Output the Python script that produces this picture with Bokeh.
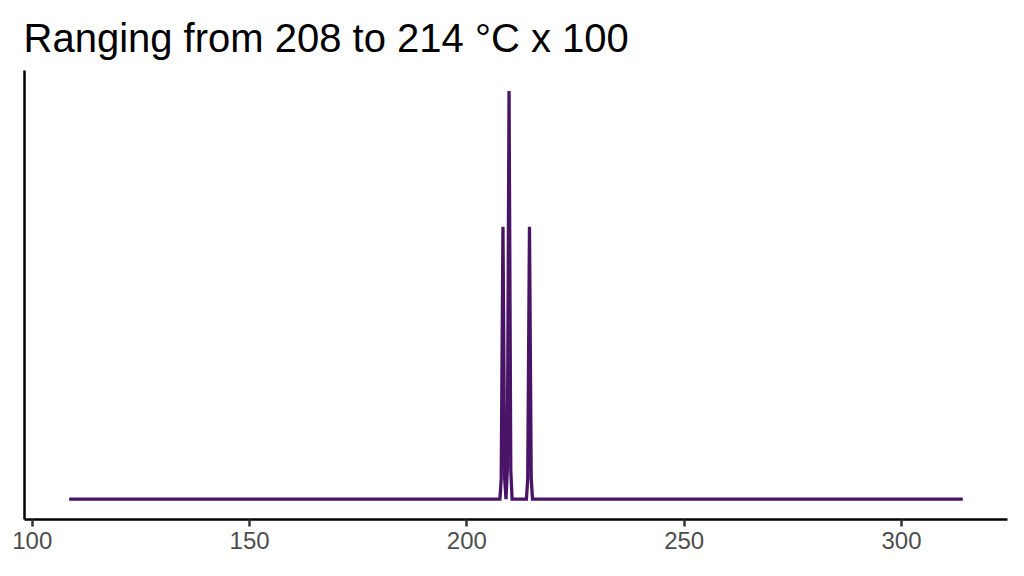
from bokeh.plotting import figure
from bokeh.models import Range1d, FixedTicker
from bokeh.embed import file_html
from bokeh.resources import INLINE

# Data: temperature (°C) vs relative density (peaks near 208-214 °C)
temp = [108.5, 207.6, 207.9, 208.3, 208.7, 209.0, 209.3, 209.7, 210.1, 210.4,
        213.7, 214.0, 214.4, 214.8, 215.1, 314.1]
dens = [0.0, 0.0, 0.05, 0.667, 0.05, 0.0, 0.07, 1.0, 0.07, 0.0,
        0.0, 0.05, 0.667, 0.05, 0.0, 0.0]
x_ticks = [100, 150, 200, 250, 300]
title_text = "Ranging from 208 to 214 °C x 100"

xmin, xmax = min(temp), max(temp)
xpad = (xmax - xmin) * 0.05
ymax = max(dens)

p = figure(width=1024, height=576, output_backend="svg", toolbar_location=None,
           x_range=Range1d(xmin - xpad, xmax + xpad),
           y_range=Range1d(-0.05 * ymax, 1.05 * ymax),
           min_border_left=24, min_border_right=17, min_border_top=70, min_border_bottom=57)

p.line(temp, dens, line_color="#4A1466", line_width=3.3, line_join="miter")

p.title.text = title_text
p.title.text_font = "Liberation Sans"
p.title.text_font_size = "40px"
p.title.text_font_style = "normal"
p.title.text_color = "#000000"
p.title.text_line_height = 0.8
p.title.offset = -1
p.title.standoff = 18
p.title.vertical_align = "top"

p.xgrid.visible = False
p.ygrid.visible = False
p.outline_line_color = None
p.background_fill_color = "white"
p.border_fill_color = "white"

xa = p.xaxis[0]
xa.ticker = FixedTicker(ticks=x_ticks)
xa.major_label_text_font = "Liberation Sans"
xa.major_label_text_font_size = "24px"
xa.major_label_text_color = "#4D4D4D"
xa.major_label_standoff = 5
xa.major_tick_out = 7
xa.major_tick_in = 0
xa.major_tick_line_width = 2.5
xa.major_tick_line_color = "#333333"
xa.minor_tick_line_color = None
xa.axis_line_width = 2.5
xa.axis_line_color = "black"

ya = p.yaxis[0]
ya.ticker = FixedTicker(ticks=[])
ya.major_tick_line_color = None
ya.minor_tick_line_color = None
ya.major_label_text_font_size = "0px"
ya.axis_line_width = 2.5
ya.axis_line_color = "black"

open("out.html", "w").write(file_html(p, INLINE))
